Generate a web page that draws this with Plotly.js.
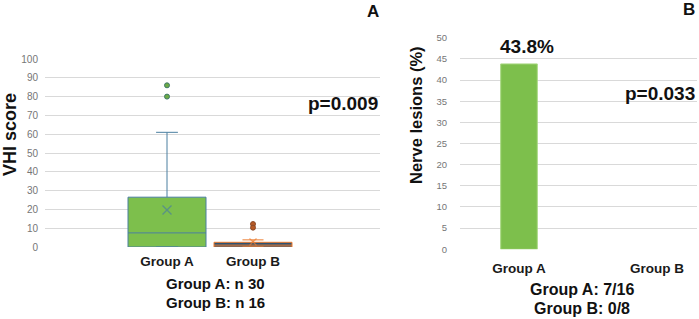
<!DOCTYPE html>
<html>
<head>
<meta charset="utf-8">
<script src="https://cdn.plot.ly/plotly-3.0.1.min.js"></script>
<style>html,body{margin:0;padding:0;background:#fff;}#chart{width:699px;height:319px;}</style>
</head>
<body>
<div id="chart"></div>
<script>
// ---- data (panel A: VHI score box summaries) ----
const groups = ["Group A", "Group B"];
const groupPos = [0, 1];
const q1 = [0, 0];
const median = [7.5, 1];
const q3 = [26.5, 2.5];
const lowerFence = [0, 0];
const upperFence = [61, 3.8];
const means = [19.7, 2.7];
const outliersA = [86, 80];
const outliersB = [12.2, 10.3];
const pValueA = "p=0.009";
const noteA = ["Group A: n 30", "Group B: n 16"];

// ---- data (panel B: nerve lesions %) ----
const lesionPct = [43.8, 0];
const lesionLabel = ["43.8%", ""];
const pValueB = "p=0.033";
const noteB = ["Group A: 7/16", "Group B: 0/8"];

const W = 699, H = 319;
const px = x => x / W;
const py = y => 1 - y / H;
const FONT = "Liberation Sans, Arial, Helvetica, sans-serif";
const boxLine = "#4A7FA0";
const green = "#7DBF4C";
const orange = "#ED7D31";
const b = s => "<b>" + s + "</b>";

const traces = [
  {
    type: "box", x: [groupPos[0]], q1: [q1[0]], median: [median[0]], q3: [q3[0]],
    lowerfence: [lowerFence[0]], upperfence: [upperFence[0]],
    width: 0.907, whiskerwidth: 0.28, fillcolor: green,
    line: {color: boxLine, width: 1}, boxpoints: false, hoverinfo: "skip",
    xaxis: "x", yaxis: "y", showlegend: false
  },
  {
    type: "box", x: [groupPos[1]], q1: [q1[1]], median: [median[1]], q3: [q3[1]],
    lowerfence: [lowerFence[1]], upperfence: [upperFence[1]],
    width: 0.907, whiskerwidth: 0.27, fillcolor: "#2C5272",
    line: {color: orange, width: 1}, boxpoints: false, hoverinfo: "skip",
    xaxis: "x", yaxis: "y", showlegend: false
  },
  {
    type: "scatter", mode: "markers", x: outliersA.map(() => groupPos[0]), y: outliersA,
    marker: {color: "#6DAA45", size: 5, line: {color: "#3F7A6A", width: 1}},
    xaxis: "x", yaxis: "y", showlegend: false, hoverinfo: "skip"
  },
  {
    type: "scatter", mode: "markers", x: outliersB.map(() => groupPos[1]), y: outliersB,
    marker: {color: "#B85A25", size: 5, line: {color: "#8A4A2A", width: 1}},
    xaxis: "x", yaxis: "y", showlegend: false, hoverinfo: "skip"
  },
  {
    type: "scatter", mode: "markers", x: groupPos, y: means,
    marker: {symbol: "x-thin-open", size: [9, 7], color: [boxLine, orange], line: {color: [boxLine, orange], width: 1.3}},
    xaxis: "x", yaxis: "y", showlegend: false, hoverinfo: "skip"
  },
  {
    type: "bar", x: groupPos, y: lesionPct, width: 0.265,
    marker: {color: green, line: {color: "#A6D77F", width: [1, 0]}},
    xaxis: "x2", yaxis: "y2", showlegend: false, hoverinfo: "skip"
  }
];

const grid = "#D9D9D9";
const tickFont = {family: FONT, size: 10, color: "#767676"};
const catFont = {family: FONT, size: 13.5, color: "#1a1a1a", weight: 700};
const layout = {
  width: W, height: H,
  margin: {l: 0, r: 0, t: 0, b: 0},
  paper_bgcolor: "#fff", plot_bgcolor: "#fff",
  font: {family: FONT},
  xaxis: {
    domain: [px(45), px(380)], range: [-1.4186, 2.4767],
    tickvals: groupPos, ticktext: groups, showgrid: false, zeroline: false,
    showline: false, ticks: "", ticklabelstandoff: 4,
    tickfont: catFont, fixedrange: true
  },
  yaxis: {
    domain: [py(247), py(59)], range: [0, 100], dtick: 10, tick0: 0,
    showgrid: true, gridcolor: grid, gridwidth: 1, zeroline: false, showline: false,
    ticks: "", ticklabelstandoff: 6, tickfont: tickFont, fixedrange: true
  },
  xaxis2: {
    domain: [px(460), px(697)], range: [-0.4275, 1.29], anchor: "y2",
    tickvals: groupPos, ticktext: groups, showgrid: false, zeroline: false,
    showline: false, ticks: "", ticklabelstandoff: 9,
    tickfont: catFont, fixedrange: true
  },
  yaxis2: {
    domain: [py(249.3), py(37.7)], range: [0, 50], dtick: 5, tick0: 0, anchor: "x2",
    showgrid: true, gridcolor: grid, gridwidth: 1, zeroline: false, showline: false,
    ticks: "", ticklabelstandoff: 12, tickfont: {family: FONT, size: 9.5, color: "#767676"}, fixedrange: true
  },
  annotations: []
};

function ann(text, x, y, size, opts) {
  return Object.assign({
    text: b(text), x: px(x), y: py(y), xref: "paper", yref: "paper",
    showarrow: false, xanchor: "center", yanchor: "middle",
    font: {family: FONT, size: size, color: "#111", weight: 700}
  }, opts || {});
}

layout.annotations.push(
  ann("VHI score", 10, 135, 18, {textangle: -90}),
  ann("Nerve lesions (%)", 416, 115, 16.5, {textangle: -90}),
  ann("A", 373, 12, 17),
  ann("B", 689, 10, 17),
  ann(pValueA, 380, 103, 19, {xanchor: "right"}),
  ann(pValueB, 697, 93, 19, {xanchor: "right"}),
  ann(noteA[0], 215, 283, 15),
  ann(noteA[1], 215, 302.5, 15),
  ann(noteB[0], 582, 289, 16),
  ann(noteB[1], 582, 308, 16),
  {
    text: b(lesionLabel[0]), x: groupPos[0], y: lesionPct[0], xref: "x2", yref: "y2",
    xshift: 8, yshift: 5, showarrow: false, xanchor: "center", yanchor: "bottom",
    font: {family: FONT, size: 19, color: "#111", weight: 700}
  }
);

Plotly.newPlot("chart", traces, layout, {displayModeBar: false, staticPlot: true});
</script>
</body>
</html>
